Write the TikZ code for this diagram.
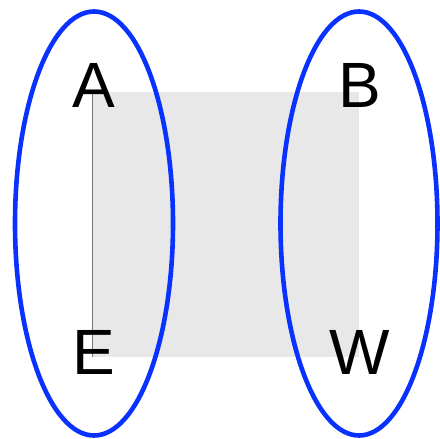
\documentclass[tikz,border=0pt]{standalone}
\usepackage{fontspec}
\setmainfont{Liberation Sans}
\definecolor{ringblue}{HTML}{0A32FF}
\definecolor{sqgray}{HTML}{E8E8E8}
\begin{document}
\begin{tikzpicture}[x=1pt,y=-1pt,
  lbl/.style={inner sep=0pt,anchor=base,font=\fontsize{64}{64}\selectfont},
  ring/.style={draw=ringblue,line width=4.6pt}]
\useasboundingbox (0,0) rectangle (440,439);
\fill[sqgray] (92,92) rectangle (359,357);
\coordinate (cA) at (92,92);
\coordinate (cE) at (92,357);
\draw[gray!90!black,line width=0.8pt] (cA) -- (cE);
\node[lbl] (A) at (94,107) {A};
\node[lbl] (B) at (360,107) {B};
\node[lbl] (E) at (94,374) {E};
\node[lbl] (W) at (360,374) {W};
\draw[ring] (94,223.5) ellipse [x radius=79, y radius=212];
\draw[ring] (359,223.5) ellipse [x radius=78.5, y radius=212];
\end{tikzpicture}
\end{document}
